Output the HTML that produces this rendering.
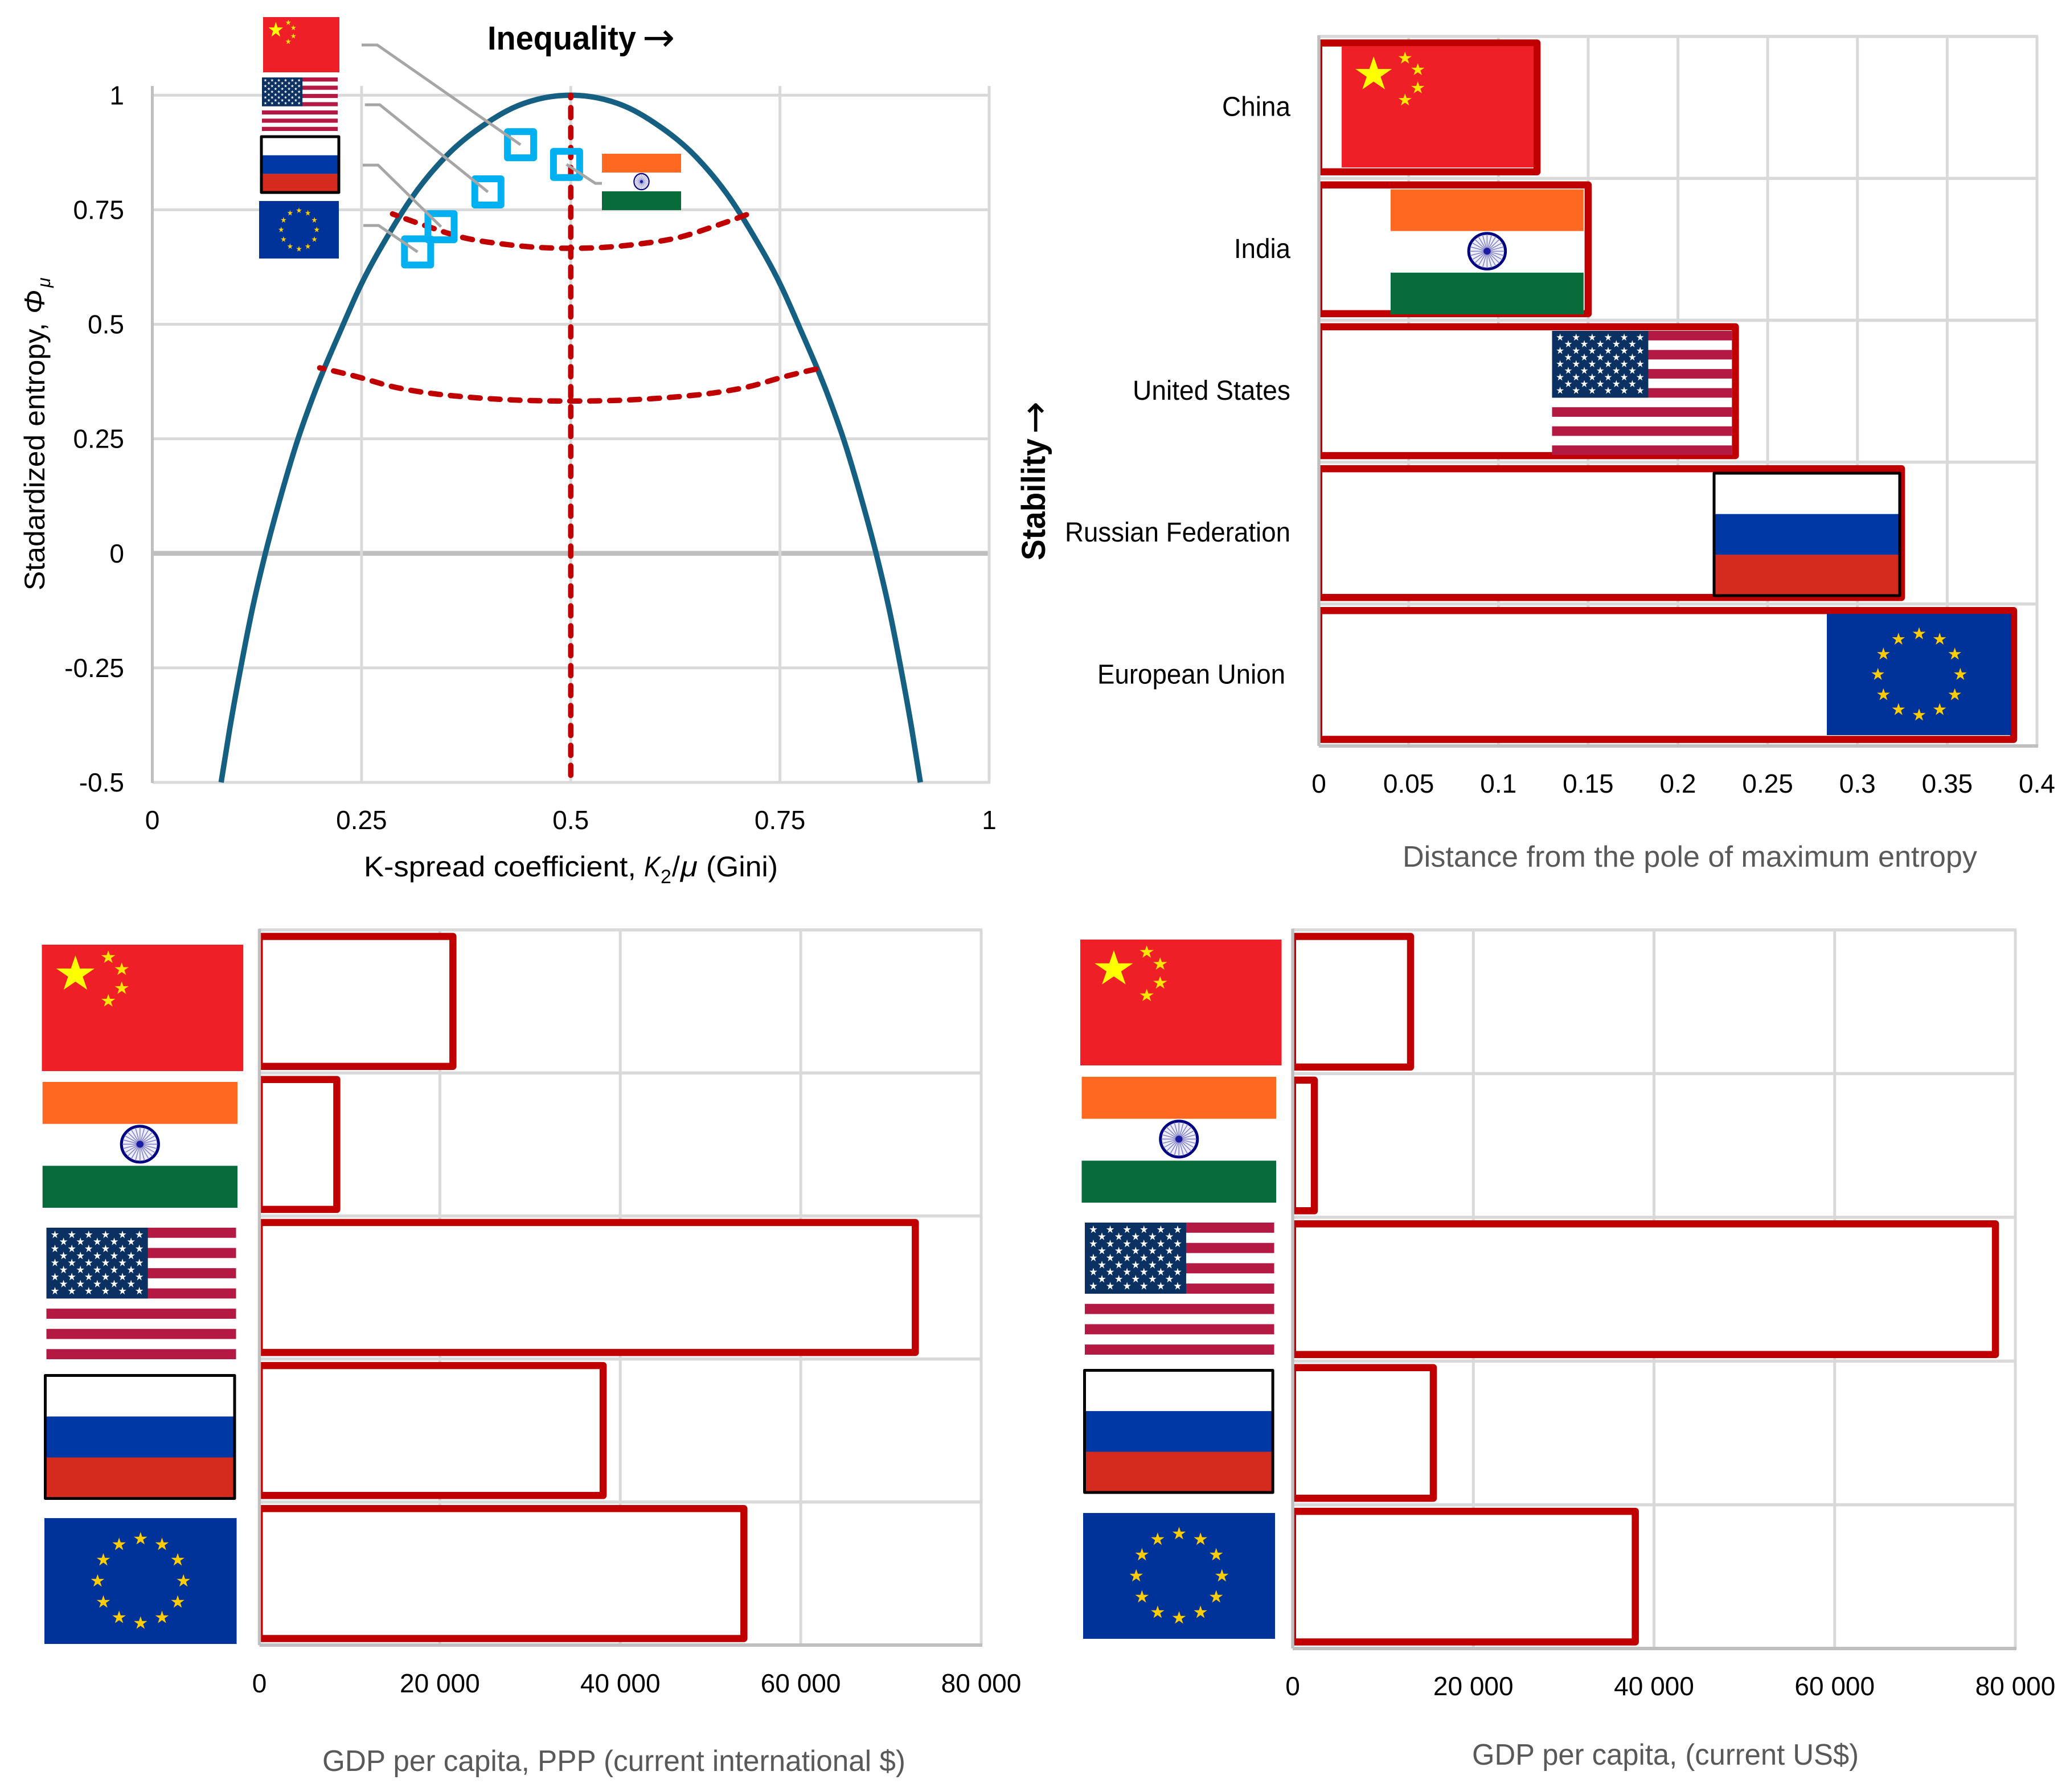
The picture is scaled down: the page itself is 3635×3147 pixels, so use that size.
<!DOCTYPE html>
<html lang="en">
<head>
<meta charset="utf-8">
<title>Entropy, inequality and GDP per capita</title>
<style>
html,body{margin:0;padding:0;background:#fff;}
svg{display:block;font-family:"Liberation Sans",sans-serif;}
</style>
</head>
<body>
<svg id="root" xmlns="http://www.w3.org/2000/svg" width="3635" height="3147" viewBox="0 0 3635 3147">
  <rect width="3635" height="3147" fill="#ffffff"/>
  <defs id="defs"></defs>

  <g id="entropy-chart"></g>
  <g id="distance-chart"></g>
  <g id="ppp-chart"></g>
  <g id="usd-chart"></g>

  <g fill="#000">
    <text x="856" y="87" font-size="58" font-weight="700" textLength="261" lengthAdjust="spacingAndGlyphs">Inequality</text>
    <text x="1128" y="89" font-size="68" style="font-family:'DejaVu Sans',sans-serif">→</text>
    <text y="1539" font-size="50"><tspan x="639" textLength="478" lengthAdjust="spacingAndGlyphs">K-spread coefficient,</tspan><tspan x="1131" font-style="italic" textLength="29" lengthAdjust="spacingAndGlyphs">K</tspan><tspan x="1160" dy="12" font-size="34">2</tspan><tspan x="1180" dy="-12">/</tspan><tspan x="1195" font-style="italic" textLength="30" lengthAdjust="spacingAndGlyphs">μ</tspan><tspan x="1240" textLength="126" lengthAdjust="spacingAndGlyphs">(Gini)</tspan></text>
    <text transform="translate(78,1037) rotate(-90)" font-size="50"><tspan x="0" textLength="470" lengthAdjust="spacingAndGlyphs">Stadardized entropy,</tspan><tspan x="486" font-style="italic" textLength="42" lengthAdjust="spacingAndGlyphs">Φ</tspan><tspan x="532" dy="10" font-size="32" font-style="italic">μ</tspan></text>
  </g>
  <g>
    <text transform="translate(1835,984) rotate(-90)" font-size="58" font-weight="700" fill="#000" textLength="214" lengthAdjust="spacingAndGlyphs">Stability</text>
    <text transform="translate(1840,762) rotate(-90)" font-size="68" fill="#000" style="font-family:'DejaVu Sans',sans-serif">→</text>
    <text x="2463" y="1522" font-size="52" fill="#595959" textLength="1009" lengthAdjust="spacingAndGlyphs">Distance from the pole of maximum entropy</text>
  </g>
  <text x="566" y="3110" font-size="52" fill="#595959" textLength="1024" lengthAdjust="spacingAndGlyphs">GDP per capita, PPP (current international $)</text>
  <text x="2585" y="3099" font-size="52" fill="#595959" textLength="679" lengthAdjust="spacingAndGlyphs">GDP per capita, (current US$)</text>
</svg>

<script>
/* ---------- chart data ---------- */
const categories = ['China', 'India', 'United States', 'Russian Federation', 'European Union'];
const flagKeys = ['china', 'india', 'usa', 'russia', 'eu'];

const distanceValues = [0.1215, 0.15, 0.232, 0.3245, 0.387];
const distanceTicks = [0, 0.05, 0.1, 0.15, 0.2, 0.25, 0.3, 0.35, 0.4];
const distanceTickLabels = ['0', '0.05', '0.1', '0.15', '0.2', '0.25', '0.3', '0.35', '0.4'];

const pppValues = [21450, 8580, 72700, 38100, 53700];
const usdValues = [13050, 2400, 77800, 15570, 37930];
const gdpTicks = [0, 20000, 40000, 60000, 80000];
const gdpTickLabels = ['0', '20 000', '40 000', '60 000', '80 000'];

const kTicks = [0, 0.25, 0.5, 0.75, 1];
const kTickLabels = ['0', '0.25', '0.5', '0.75', '1'];
const phiTicks = [1, 0.75, 0.5, 0.25, 0, -0.25, -0.5];
const phiTickLabels = ['1', '0.75', '0.5', '0.25', '0', '-0.25', '-0.5'];

const curveK = [0.0822, 0.0924, 0.1056, 0.1197, 0.1351, 0.152, 0.1741, 0.191, 0.2263, 0.249, 0.283, 0.31, 0.35, 0.401, 0.4304, 0.46, 0.5, 0.54, 0.5696, 0.599, 0.65, 0.69, 0.717, 0.751, 0.7737, 0.809, 0.8259, 0.848, 0.8649, 0.8803, 0.8944, 0.9076, 0.9178];
const curvePhi = [-0.5, -0.384, -0.25, -0.12, 0, 0.115, 0.25, 0.337, 0.492, 0.585, 0.698, 0.776, 0.865, 0.941, 0.972, 0.991, 1, 0.991, 0.972, 0.941, 0.865, 0.776, 0.698, 0.585, 0.492, 0.337, 0.25, 0.115, 0, -0.12, -0.25, -0.384, -0.5];

const upperArcK = [0.287, 0.33, 0.37, 0.42, 0.46, 0.5, 0.54, 0.58, 0.63, 0.67, 0.7125];
const upperArcPhi = [0.741, 0.713, 0.69, 0.675, 0.668, 0.666, 0.668, 0.675, 0.69, 0.713, 0.741];
const lowerArcK = [0.2, 0.244, 0.287, 0.33, 0.365, 0.43, 0.5, 0.57, 0.635, 0.67, 0.713, 0.756, 0.8];
const lowerArcPhi = [0.405, 0.386, 0.364, 0.35, 0.343, 0.335, 0.3325, 0.335, 0.343, 0.35, 0.364, 0.386, 0.405];
const axisLineK = [0.5, 0.5];
const axisLinePhi = [1, -0.5];

const pointK = [0.44, 0.495, 0.401, 0.345, 0.317];
const pointPhi = [0.892, 0.849, 0.789, 0.713, 0.658];

/* ---------- helpers ---------- */
const NS = 'http://www.w3.org/2000/svg';
function el(tag, attrs, parent) {
  const n = document.createElementNS(NS, tag);
  for (const k in attrs) n.setAttribute(k, attrs[k]);
  if (parent) parent.appendChild(n);
  return n;
}
function slug(s) { return s.toLowerCase().replace(/[^a-z0-9]+/g, '-'); }
function starPoints(cx, cy, r) {
  const pts = [];
  for (let i = 0; i < 10; i++) {
    const rad = i % 2 === 0 ? r : r * 0.382;
    const a = -Math.PI / 2 + i * Math.PI / 5;
    pts.push((cx + rad * Math.cos(a)).toFixed(2) + ',' + (cy + rad * Math.sin(a)).toFixed(2));
  }
  return pts.join(' ');
}
/* Cubic Hermite through points ordered by x, slopes weighted for uneven spacing */
function smoothPath(xs, ys) {
  const n = xs.length;
  const h = [], d = [], m = [];
  for (let i = 0; i < n - 1; i++) {
    h.push(xs[i + 1] - xs[i]);
    d.push((ys[i + 1] - ys[i]) / h[i]);
  }
  m[0] = d[0] + (d[0] - d[1]) * h[0] / (h[0] + h[1]);
  for (let i = 1; i < n - 1; i++) {
    m[i] = (h[i - 1] * d[i] + h[i] * d[i - 1]) / (h[i - 1] + h[i]);
  }
  m[n - 1] = d[n - 2] + (d[n - 2] - d[n - 3]) * h[n - 2] / (h[n - 2] + h[n - 3]);
  let s = 'M' + xs[0].toFixed(2) + ' ' + ys[0].toFixed(2);
  for (let i = 0; i < n - 1; i++) {
    s += ' C' + (xs[i] + h[i] / 3).toFixed(2) + ' ' + (ys[i] + m[i] * h[i] / 3).toFixed(2) + ' ' +
      (xs[i + 1] - h[i] / 3).toFixed(2) + ' ' + (ys[i + 1] - m[i + 1] * h[i] / 3).toFixed(2) + ' ' +
      xs[i + 1].toFixed(2) + ' ' + ys[i + 1].toFixed(2);
  }
  return s;
}

/* ---------- flag symbols ---------- */
const defs = document.getElementById('defs');
function symbol(id) {
  return el('symbol', { id: 'flag-' + id, viewBox: '0 0 300 200', preserveAspectRatio: 'none' }, defs);
}
(function buildSymbols() {
  const cn = symbol('china');
  el('rect', { width: 300, height: 200, fill: '#EF1F27' }, cn);
  el('polygon', { points: starPoints(50, 47, 30), fill: '#FFFF00' }, cn);
  [[99, 20], [119, 39], [119, 69], [99, 89]].forEach(p => {
    el('polygon', { points: starPoints(p[0], p[1], 11), fill: '#FFE800' }, cn);
  });

  const ind = symbol('india');
  el('rect', { width: 300, height: 200, fill: '#FFFFFF' }, ind);
  el('rect', { width: 300, height: 66.7, fill: '#FF6820' }, ind);
  el('rect', { y: 133.3, width: 300, height: 66.7, fill: '#076C3A' }, ind);
  el('circle', { cx: 150, cy: 99, r: 28.5, fill: '#eeeefa', stroke: '#000080', 'stroke-width': 4.5 }, ind);
  for (let i = 0; i < 24; i++) {
    const a = i * Math.PI / 12;
    el('line', { x1: 150, y1: 99, x2: 150 + 27 * Math.cos(a), y2: 99 + 27 * Math.sin(a), stroke: '#7a7ac8', 'stroke-width': 1.3 }, ind);
  }
  el('circle', { cx: 150, cy: 99, r: 5.5, fill: '#1c1ca0' }, ind);

  const us = symbol('usa');
  el('rect', { width: 300, height: 200, fill: '#FFFFFF' }, us);
  for (let i = 0; i < 13; i += 2) {
    el('rect', { y: i * 200 / 13, width: 300, height: 200 / 13, fill: '#B31942' }, us);
  }
  el('rect', { width: 160.5, height: 107.7, fill: '#0A3161' }, us);
  for (let r = 0; r < 9; r++) {
    const odd = r % 2 === 1;
    const count = odd ? 5 : 6;
    for (let c = 0; c < count; c++) {
      el('polygon', { points: starPoints((odd ? 27.1 : 13.5) + 26.7 * c, 10.7 + 10.7 * r, 6.4), fill: '#FFFFFF' }, us);
    }
  }

  const ru = symbol('russia');
  el('rect', { width: 300, height: 66.7, fill: '#FFFFFF' }, ru);
  el('rect', { y: 66.7, width: 300, height: 66.7, fill: '#0039A6' }, ru);
  el('rect', { y: 133.3, width: 300, height: 66.7, fill: '#D52B1E' }, ru);

  const eu = symbol('eu');
  el('rect', { width: 300, height: 200, fill: '#003399' }, eu);
  for (let i = 0; i < 12; i++) {
    const a = i * Math.PI / 6;
    el('polygon', { points: starPoints(150 + 67 * Math.sin(a), 100 - 67 * Math.cos(a), 11), fill: '#FFCC00' }, eu);
  }
})();

function drawFlag(parent, key, x, y, w, h, owner) {
  const u = el('use', { href: '#flag-' + key, x: x, y: y, width: w, height: h }, parent);
  
  
  if (key === 'russia') {
    const b = el('rect', { x: x, y: y, width: w, height: h, fill: 'none', stroke: '#000', 'stroke-width': 5, 'stroke-linejoin': 'round' }, parent);
    
    
  }
}

/* ---------- entropy chart ---------- */
(function drawEntropy() {
  const g = document.getElementById('entropy-chart');
  const xL = 267.5, xR = 1737, yT = 167.3, yB = 1374;
  const sx = v => xL + v * (xR - xL);
  const sy = v => yT + (1 - v) * (yB - yT) / 1.5;

  phiTicks.forEach((v, i) => {
    const zero = v === 0;
    const line = el('line', { x1: xL, x2: xR + 2, y1: sy(v), y2: sy(v), stroke: zero ? '#BFBFBF' : '#D9D9D9', 'stroke-width': zero ? 8.5 : 5 }, g);
    
    
    const t = el('text', { x: 218, y: sy(v) + 16, 'font-size': 46, 'text-anchor': 'end', fill: '#000' }, g);
    t.textContent = phiTickLabels[i];
    
    
  });
  kTicks.forEach((v, i) => {
    const line = el('line', { x1: sx(v), x2: sx(v), y1: 151, y2: yB + 1, stroke: v === 0 ? '#BFBFBF' : '#D9D9D9', 'stroke-width': 5 }, g);
    
    
    const t = el('text', { x: sx(v), y: 1456, 'font-size': 46, 'text-anchor': 'middle', fill: '#000' }, g);
    t.textContent = kTickLabels[i];
    
    
  });

  const curve = el('path', { d: smoothPath(curveK.map(sx), curvePhi.map(sy)), fill: 'none', stroke: '#156082', 'stroke-width': 9.5 }, g);
  
  

  const dash = { fill: 'none', stroke: '#C00000', 'stroke-width': 9.5, 'stroke-dasharray': '17.5 17.5', 'stroke-linecap': 'round' };
  const upper = el('path', Object.assign({ d: smoothPath(upperArcK.map(sx), upperArcPhi.map(sy)), 'stroke-dashoffset': 10 }, dash), g);
  
  
  const lower = el('path', Object.assign({ d: smoothPath(lowerArcK.map(sx), lowerArcPhi.map(sy)), 'stroke-dashoffset': 10 }, dash), g);
  
  
  const midD = 'M' + sx(axisLineK[0]) + ' ' + sy(axisLinePhi[0]) + ' L' + sx(axisLineK[1]) + ' ' + sy(axisLinePhi[1]);
  const mid = el('path', Object.assign({ d: midD, 'stroke-dashoffset': 13.3 }, dash), g);
  
  

  pointK.forEach((k, i) => {
    const s = el('rect', { x: sx(k) - 23, y: sy(pointPhi[i]) - 23, width: 46, height: 46, fill: 'none', stroke: '#00B0F0', 'stroke-width': 12, 'stroke-linejoin': 'round' }, g);
    
    
  });

  /* leader-line anchor beside each flag, in page layout */
  const leaderStart = [[635, 79, 662.5], [1057, 322, 1045.4], [640.7, 184, 667], [637, 290, 664], [638, 396, 665]];
  pointK.forEach((k, i) => {
    const a = leaderStart[i];
    const l = el('polyline', { points: a[0] + ',' + a[1] + ' ' + a[2] + ',' + a[1] + ' ' + sx(k) + ',' + sy(pointPhi[i]), fill: 'none', stroke: '#A6A6A6', 'stroke-width': 5 }, g);
    
    
  });

  const boxes = [[462, 30, 134, 97], [1057, 270, 139, 99], [460, 136, 133, 94], [459, 240, 136, 98], [455, 353, 140, 101]];
  flagKeys.forEach((key, i) => {
    const b = boxes[i];
    drawFlag(g, key, b[0], b[1], b[2], b[3], 'entropy');
  });
})();

/* ---------- horizontal bar charts ---------- */
function drawBars(cfg) {
  const g = document.getElementById(cfg.id);
  const sx = v => cfg.x0 + (v / cfg.max) * (cfg.x1 - cfg.x0);
  const rowH = (cfg.bottom - cfg.top) / categories.length;
  const band = i => cfg.top + rowH * i;
  const barInset = 11.5;

  for (let i = 0; i < categories.length; i++) {
    const line = el('line', { x1: cfg.x0, x2: cfg.x1 + 2, y1: band(i), y2: band(i), stroke: '#D9D9D9', 'stroke-width': 5.5 }, g);
    
    
  }
  cfg.ticks.forEach((v, i) => {
    const line = el('line', { x1: sx(v), x2: sx(v), y1: cfg.top, y2: cfg.bottom, stroke: '#D9D9D9', 'stroke-width': 5 }, g);
    
    
    const t = el('text', { x: sx(v), y: cfg.tickY, 'font-size': 46, 'text-anchor': 'middle', fill: '#000' }, g);
    t.textContent = cfg.tickLabels[i];
    
    
  });
  const base = el('line', { x1: cfg.x0, x2: cfg.x1 + 2, y1: cfg.bottom, y2: cfg.bottom, stroke: '#BFBFBF', 'stroke-width': 6 }, g);
  
  

  cfg.values.forEach((v, i) => {
    const t = band(i) + barInset, b = band(i + 1) - barInset, r = sx(v);
    const bar = el('path', { d: 'M' + cfg.x0 + ' ' + t + ' H' + r + ' V' + b + ' H' + cfg.x0, fill: '#fff', stroke: '#C00000', 'stroke-width': 12.5, 'stroke-linejoin': 'round' }, g);
    
    
    const edge = el('line', { x1: cfg.x0 + 3, x2: cfg.x0 + 3, y1: t, y2: b, stroke: '#C00000', 'stroke-width': 6 }, g);
    
    
  });
  const axis = el('line', { x1: cfg.x0, x2: cfg.x0, y1: cfg.top - 2, y2: cfg.bottom, stroke: '#BFBFBF', 'stroke-width': 5.5 }, g);
  
  

  flagKeys.forEach((key, i) => {
    const f = cfg.flags[i];
    const x = cfg.flagsFollowBars ? sx(cfg.values[i]) - f[4] - f[2] : f[0];
    drawFlag(g, key, x, f[1], f[2], f[3], cfg.id);
  });
}

drawBars({
  id: 'distance-chart', x0: 2316, x1: 3577, top: 64, bottom: 1310, max: 0.4,
  values: distanceValues, ticks: distanceTicks, tickLabels: distanceTickLabels, tickY: 1392,
  flagsFollowBars: true,
  flags: [[0, 81, 337, 213, 6], [0, 332.5, 339, 219.5, 8], [0, 581, 316, 218, 6], [0, 831, 326, 215, 3], [0, 1078, 324, 213, 4]]
});
drawBars({
  id: 'ppp-chart', x0: 455.5, x1: 1723, top: 1633, bottom: 2889, max: 80000,
  values: pppValues, ticks: gdpTicks, tickLabels: gdpTickLabels, tickY: 2972,
  flagsFollowBars: false,
  flags: [[73.5, 1659, 353.5, 222], [74.6, 1900, 342.4, 221], [81.5, 2156, 333, 231], [79.5, 2415.5, 332.5, 216], [78, 2666, 337.6, 221]]
});
drawBars({
  id: 'usd-chart', x0: 2270, x1: 3539, top: 1633, bottom: 2895, max: 80000,
  values: usdValues, ticks: gdpTicks, tickLabels: gdpTickLabels, tickY: 2977,
  flagsFollowBars: false,
  flags: [[1897, 1650, 353.5, 221], [1899.5, 1891, 341.5, 221], [1905, 2147, 332.6, 232], [1904.5, 2406.5, 330.6, 214.5], [1902, 2657, 337, 221]]
});

/* ---------- category labels on the distance chart ---------- */
(function drawCategoryLabels() {
  const g = document.getElementById('distance-chart');
  const labelWidths = [120, 99, 277, 396, 330];
  const labelEnds = [2266, 2266, 2266, 2266, 2257];
  categories.forEach((c, i) => {
    const t = el('text', { x: labelEnds[i] - labelWidths[i], y: 64 + 249.2 * i + 124.6 + 15, 'font-size': 48, fill: '#000', textLength: labelWidths[i], lengthAdjust: 'spacingAndGlyphs' }, g);
    t.textContent = c;
    
    
  });
})();
</script>
</body>
</html>
